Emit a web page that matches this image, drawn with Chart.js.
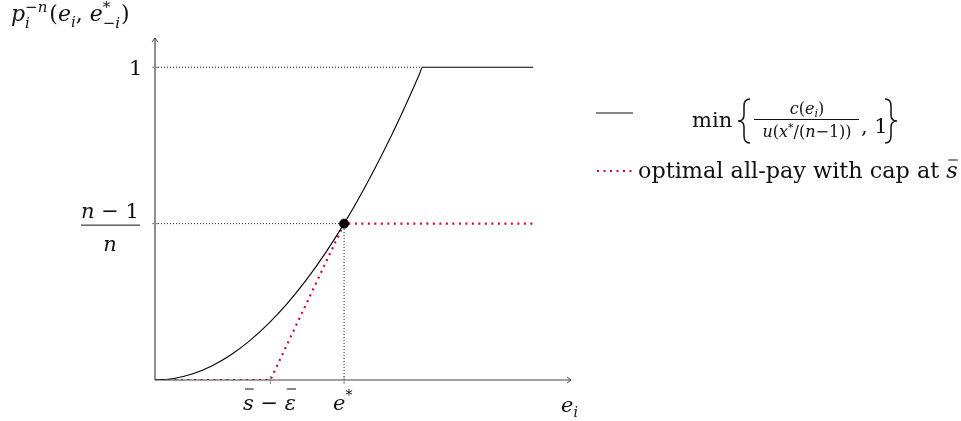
<!DOCTYPE html>
<html>
<head>
<meta charset="utf-8">
<script src="https://cdn.jsdelivr.net/npm/chart.js@4.4.1/dist/chart.umd.min.js"></script>
<style>
  html, body { margin: 0; padding: 0; background: #fff; }
  #wrap { width: 961px; height: 421px; position: relative; }
</style>
</head>
<body>
<div id="wrap"><canvas id="c" width="961" height="421"></canvas></div>
<script>
// effort e_i (e* = 1) and the two probability curves
const effortX = [0, 0.1, 0.2, 0.3, 0.4, 0.5, 0.6, 0.7, 0.8, 0.9, 1.0, 1.1, 1.2, 1.3, 1.4, 1.414, 2.0];
const minCurve = [0, 0.005, 0.02, 0.045, 0.08, 0.125, 0.18, 0.245, 0.32, 0.405, 0.5, 0.605, 0.72, 0.845, 0.98, 1, 1];
const capX = [0, 0.61, 1.0, 2.0];
const capY = [0, 0, 0.5, 0.5];
const eStar = 1.0, pStar = 0.5, kinkX = 1.414;
const xTickVals = [0.61, 1.0];
const yTickVals = [1, 0.5];
const legendText = "optimal all-pay with cap at ";

const RED = "#d1004f", INK = "#111", FAM = '"DejaVu Serif", serif';
const pts = (xs, ys) => xs.map((x, i) => ({ x, y: ys[i] }));

// draw a run of pieces [text, style, size, dy]; returns the x where it ends
function runs(ctx, x, y, parts) {
  parts.forEach(([t, st, sz, dy]) => {
    ctx.font = `${st === "i" ? "italic " : ""}${sz}px ${FAM}`;
    ctx.fillText(t, x, y + (dy || 0));
    x += ctx.measureText(t).width;
  });
  return x;
}
function runsWidth(ctx, parts) {
  return parts.reduce((w, [t, st, sz]) => {
    ctx.font = `${st === "i" ? "italic " : ""}${sz}px ${FAM}`;
    return w + ctx.measureText(t).width;
  }, 0);
}
function seg(ctx, x1, y1, x2, y2) { ctx.beginPath(); ctx.moveTo(x1, y1); ctx.lineTo(x2, y2); ctx.stroke(); }

// s = +1 for "{", -1 for "}"
function brace(ctx, x, top, bot, s) {
  const mid = (top + bot) / 2;
  ctx.save(); ctx.lineWidth = 1.5; ctx.strokeStyle = INK;
  ctx.beginPath();
  ctx.moveTo(x + 6 * s, top);
  ctx.quadraticCurveTo(x, top, x, top + 7);
  ctx.lineTo(x, mid - 6);
  ctx.quadraticCurveTo(x, mid, x - 6 * s, mid);
  ctx.quadraticCurveTo(x, mid, x, mid + 6);
  ctx.lineTo(x, bot - 7);
  ctx.quadraticCurveTo(x, bot, x + 6 * s, bot);
  ctx.stroke(); ctx.restore();
}

const decor = {
  id: "decor",
  afterDraw(chart) {
    const { ctx, scales: { x: xs, y: ys } } = chart;
    const X = (v) => xs.getPixelForValue(v), Y = (v) => ys.getPixelForValue(v);
    const x0 = X(0), y0 = Y(0);
    ctx.save();
    ctx.strokeStyle = "#444"; ctx.lineWidth = 1.2;
    seg(ctx, x0, y0, xs.right, y0);
    seg(ctx, x0, y0, x0, ys.top + 2);
    ctx.lineWidth = 1;
    ctx.beginPath();
    ctx.moveTo(xs.right - 4, y0 - 3); ctx.lineTo(xs.right, y0); ctx.lineTo(xs.right - 4, y0 + 3);
    ctx.moveTo(x0 - 3, ys.top + 6); ctx.lineTo(x0, ys.top + 2); ctx.lineTo(x0 + 3, ys.top + 6);
    ctx.stroke();
    ctx.strokeStyle = "#888";
    xTickVals.forEach((v) => seg(ctx, X(v), y0 - 4, X(v), y0 + 4));
    yTickVals.forEach((v) => seg(ctx, x0 - 3, Y(v), x0 + 3, Y(v)));

    ctx.fillStyle = INK; ctx.strokeStyle = INK; ctx.lineWidth = 1; ctx.textAlign = "left";
    // y tick labels
    runs(ctx, 129, Y(1) + 8, [["1", "r", 21]]);
    const num = [["n", "i", 21], [" − 1", "r", 21]];
    runs(ctx, 110 - runsWidth(ctx, num) / 2, Y(0.5) - 6, num);
    seg(ctx, 81, Y(0.5) + 1.5, 140, Y(0.5) + 1.5);
    runs(ctx, 110 - runsWidth(ctx, [["n", "i", 21]]) / 2, Y(0.5) + 27, [["n", "i", 21]]);
    // x tick labels
    let p = runs(ctx, 243, 410, [["s", "i", 21]]);
    seg(ctx, 245, 389, p, 389);
    p = runs(ctx, p, 410, [[" − ", "r", 21]]);
    const q = runs(ctx, p, 410, [["ε", "i", 21]]);
    seg(ctx, p + 2, 389, q, 389);
    runs(ctx, 333, 410, [["e", "i", 21], ["*", "r", 14, -10]]);
    runs(ctx, 561, 412, [["e", "i", 21], ["i", "i", 14, 5]]);
    // y axis title  p_i^{-n}(e_i, e^*_{-i})
    p = runs(ctx, 11, 21, [["p", "i", 22]]);
    runs(ctx, p, 28, [["i", "i", 15]]);
    const supEnd = runs(ctx, p, 12, [["−", "r", 15], ["n", "i", 15]]);
    p = runs(ctx, supEnd + 2, 21, [["(", "r", 22], ["e", "i", 22], ["i", "i", 15, 6], [", ", "r", 22], ["e", "i", 22]]);
    runs(ctx, p, 12, [["*", "r", 15]]);
    const subEnd = runs(ctx, p, 28, [["−", "r", 15], ["i", "i", 15]]);
    runs(ctx, subEnd + 1, 21, [[")", "r", 22]]);

    // legend row 1: black curve, min{ c(e_i)/u(x*/(n-1)), 1 }
    seg(ctx, 596, 113, 633, 113);
    runs(ctx, 692, 127, [["min", "r", 21]]);
    brace(ctx, 744, 99, 143, 1);
    brace(ctx, 891, 99, 143, -1);
    const nParts = [["c", "i", 16], ["(", "r", 16], ["e", "i", 16], ["i", "i", 11, 3], [")", "r", 16]];
    runs(ctx, 807 - runsWidth(ctx, nParts) / 2, 114, nParts);
    seg(ctx, 754, 119.5, 859, 119.5);
    const dParts = [["u", "i", 16], ["(", "r", 16], ["x", "i", 16], ["*", "r", 11, -6], ["/(", "r", 16], ["n", "i", 16], ["−1))", "r", 16]];
    runs(ctx, 807 - runsWidth(ctx, dParts) / 2, 137, dParts);
    runs(ctx, 861, 133, [[",", "r", 21], [" 1", "r", 21]]);
    // legend row 2: red dotted
    ctx.strokeStyle = RED; ctx.lineWidth = 2.2; ctx.setLineDash([2, 4.5]);
    seg(ctx, 597, 171, 634, 171);
    ctx.setLineDash([]);
    // scale text so it spans the same width as the reference (638..960)
    let sz = 21;
    const w = runsWidth(ctx, [[legendText, "r", sz], ["s", "i", sz]]);
    sz = Math.min(24, sz * 320 / w);
    const tx = runs(ctx, 638, 178, [[legendText, "r", sz]]);
    const te = runs(ctx, tx, 178, [["s", "i", sz]]);
    ctx.strokeStyle = INK; ctx.lineWidth = 1; seg(ctx, tx + 2, 160, te, 160);
    ctx.restore();
  },
};

const guide = (data) => ({ data, borderColor: "#222", borderWidth: 1, borderDash: [1, 2], pointRadius: 0, showLine: true, order: 5 });

new Chart(document.getElementById("c"), {
  type: "scatter",
  data: {
    datasets: [
      guide([{ x: 0, y: 1 }, { x: kinkX, y: 1 }]),
      guide([{ x: 0, y: pStar }, { x: eStar, y: pStar }]),
      guide([{ x: eStar, y: 0 }, { x: eStar, y: pStar }]),
      { data: pts(capX, capY), borderColor: RED, borderWidth: 2.2, borderDash: [2, 4.5], pointRadius: 0, showLine: true, order: 2 },
      { data: pts(effortX, minCurve), borderColor: "#000", borderWidth: 1.1, pointRadius: 0, showLine: true, cubicInterpolationMode: "monotone", order: 1 },
      { data: [{ x: eStar, y: pStar }], backgroundColor: "#000", borderColor: "#000", pointRadius: 4.5, showLine: false, order: 0 },
    ],
  },
  options: {
    responsive: false, animation: false,
    layout: { padding: { left: 155, right: 390, top: 36, bottom: 41 } },
    plugins: { legend: { display: false }, tooltip: { enabled: false } },
    scales: {
      x: { type: "linear", min: 0, max: 2.2, display: false },
      y: { type: "linear", min: 0, max: 1.1, display: false },
    },
  },
  plugins: [decor],
});
</script>
</body>
</html>
